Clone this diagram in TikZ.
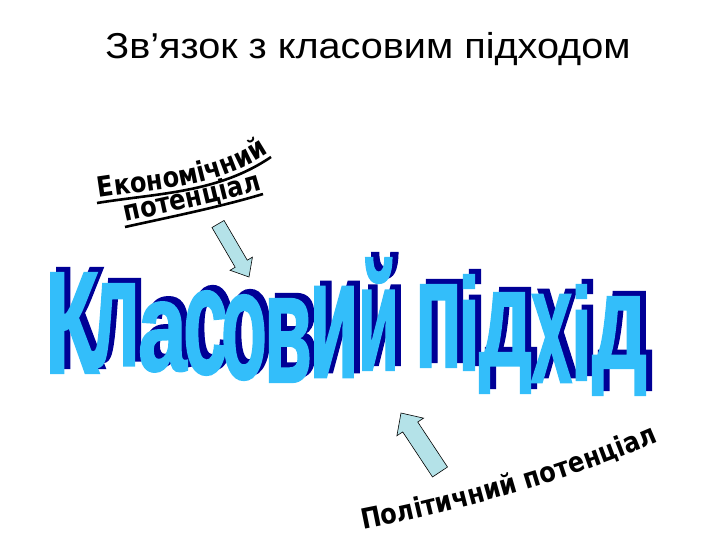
\documentclass[tikz,border=0pt]{standalone}
\usepackage{fontspec}
\usepackage{graphicx}
\usetikzlibrary{calc,decorations.text}
\setmainfont{Liberation Sans}
\newfontfamily\titlefont{Liberation Sans}[FakeStretch=1.1]
\newfontfamily\wafont{Liberation Sans}[BoldFont={Liberation Sans Bold}, BoldFeatures={FakeBold=1.5}]
\newfontfamily\ecfont{DejaVu Sans}[FakeStretch=0.86]
\definecolor{walight}{RGB}{51,190,250}
\definecolor{wadark}{RGB}{0,0,150}
\definecolor{arrowfill}{RGB}{180,226,232}
\tikzset{
  waletter/.style={inner sep=0pt, outer sep=0pt, text=walight},
  washadow/.style={inner sep=0pt, outer sep=0pt, text=wadark},
  blockarrow/.style={draw=black, line width=0.6pt, fill=arrowfill, line join=miter},
  uline/.style={line width=2.6pt, black},
}
\newcommand\WAletter[6]{%
  \node[washadow] (s#1) at ({#2+6},{#3-5}) {\resizebox*{#4pt}{#5pt}{\wafont\bfseries #6}};
}
\newcommand\WAfront[6]{%
  \node[waletter] (k#1) at (#2,#3) {\resizebox*{#4pt}{#5pt}{\wafont\bfseries #6}};
}
\begin{document}
\begin{tikzpicture}[x=1pt,y=-1pt]
\useasboundingbox (0,0) rectangle (720,540);
% title
\node[inner sep=0pt, anchor=base] (title) at (368,59) {\titlefont\fontsize{36}{42}\selectfont Зв’язок з класовим підходом};

% economic potential
\path[decorate, decoration={text along path, text align=center,
  text={|\ecfont\bfseries\fontsize{28}{28}\selectfont|Економічний}}]
  (97,198) .. controls (159,188) and (218,188) .. (270,152);
\path[decorate, decoration={text along path, text align=center,
  text={|\ecfont\bfseries\fontsize{28}{28}\selectfont|потенціал}}]
  (125,222) .. controls (170,212) and (220,202) .. (263,189);
\draw[uline] (97,203) .. controls (159,193) and (218,193) .. (271,157);
\draw[uline] (125,227) .. controls (170,217) and (220,207) .. (263,194);

% political potential
\path[decorate, decoration={text along path, text align=center,
  text={|\ecfont\bfseries\fontsize{28}{28}\selectfont|Політичний потенціал}}]
  (357,531) .. controls (440,515) and (560,485) .. (664,439);

% arrows
\coordinate (a1t) at (218,224);
\coordinate (a1p) at (249,277);
\coordinate (a1n) at ($(a1t)!46pt!(a1p)$);
\draw[blockarrow] ($(a1t)!7pt!90:(a1p)$) -- ($(a1n)!7pt!90:(a1p)$) -- ($(a1n)!13pt!90:(a1p)$)
  -- (a1p) -- ($(a1n)!13pt!-90:(a1p)$) -- ($(a1n)!7pt!-90:(a1p)$) -- ($(a1t)!7pt!-90:(a1p)$) -- cycle;
\coordinate (a2t) at (440,472);
\coordinate (a2p) at (401,413);
\coordinate (a2n) at ($(a2t)!54pt!(a2p)$);
\draw[blockarrow] ($(a2t)!9pt!90:(a2p)$) -- ($(a2n)!9pt!90:(a2p)$) -- ($(a2n)!16pt!90:(a2p)$)
  -- (a2p) -- ($(a2n)!16pt!-90:(a2p)$) -- ($(a2n)!9pt!-90:(a2p)$) -- ($(a2t)!9pt!-90:(a2p)$) -- cycle;

% WordArt shadows
\WAletter{1}{72}{323}{54}{100}{К}
\WAletter{2}{115}{325.5}{50}{83}{л}
\WAletter{3}{162.5}{337}{49}{70}{а}
\WAletter{4}{205.5}{333}{45}{84}{с}
\WAletter{5}{244}{337.5}{46}{85}{о}
\WAletter{6}{288}{340.5}{48}{83}{в}
\WAletter{7}{334}{332}{50}{90}{и}
\WAletter{8}{378.5}{314}{41}{112}{й}
\WAletter{9}{438.5}{326}{47}{82}{п}
\WAletter{10}{469}{322.5}{22}{95}{і}
\WAletter{11}{505.5}{343}{53}{100}{д}
\WAletter{12}{551.5}{338.5}{41}{87}{х}
\WAletter{13}{581.5}{332.5}{21}{95}{і}
\WAletter{14}{619.5}{346}{55}{98}{д}
% WordArt front
\WAfront{1}{72}{323}{54}{100}{К}
\WAfront{2}{115}{325.5}{50}{83}{л}
\WAfront{3}{162.5}{337}{49}{70}{а}
\WAfront{4}{205.5}{333}{45}{84}{с}
\WAfront{5}{244}{337.5}{46}{85}{о}
\WAfront{6}{288}{340.5}{48}{83}{в}
\WAfront{7}{334}{332}{50}{90}{и}
\WAfront{8}{378.5}{314}{41}{112}{й}
\WAfront{9}{438.5}{326}{47}{82}{п}
\WAfront{10}{469}{322.5}{22}{95}{і}
\WAfront{11}{505.5}{343}{53}{100}{д}
\WAfront{12}{551.5}{338.5}{41}{87}{х}
\WAfront{13}{581.5}{332.5}{21}{95}{і}
\WAfront{14}{619.5}{346}{55}{98}{д}
\end{tikzpicture}
\end{document}
